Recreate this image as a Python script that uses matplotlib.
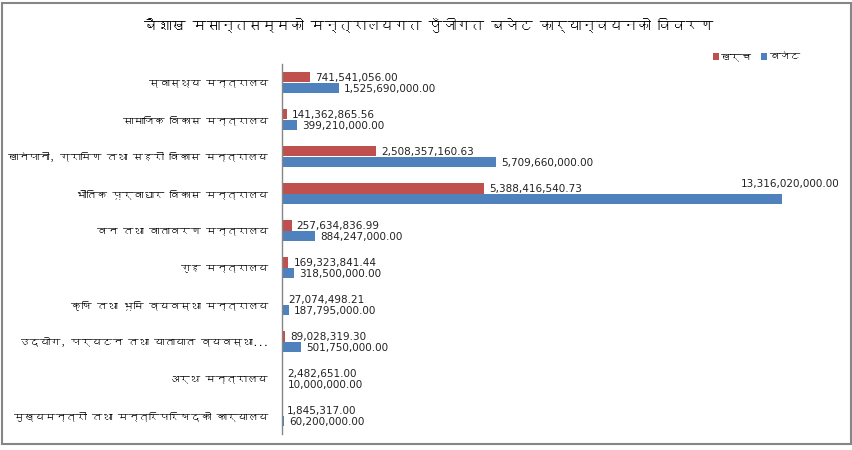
import numpy as np
import matplotlib
matplotlib.use("Agg")
import matplotlib.pyplot as plt
from matplotlib import font_manager
from matplotlib.ft2font import FT2Font
from matplotlib.patches import Rectangle

title = "बैशाख मसान्तसम्मको मन्त्रालयगत पुँजीगत बजेट कार्यान्वयनको विवरण"

ministries = [
    "स्वास्थ्य मन्त्रालय",
    "सामाजिक विकास मन्त्रालय",
    "खानेपानी, ग्रामिण तथा सहरी विकास मन्त्रालय",
    "भौतिक पूर्वाधार विकास मन्त्रालय",
    "वन तथा वातावरण मन्त्रालय",
    "गृह मन्त्रालय",
    "कृषि तथा भूमि व्यवस्था मन्त्रालय",
    "उद्योग, पर्यटन तथा यातायात व्यवस्था...",
    "अर्थ मन्त्रालय",
    "मुख्यमन्त्री तथा मन्त्रिपरिषद्को कार्यालय",
]

# खर्च (expenditure)
kharcha = [741541056.00, 141362865.56, 2508357160.63, 5388416540.73,
           257634836.99, 169323841.44, 27074498.21, 89028319.30,
           2482651.00, 1845317.00]
# बजेट (budget)
budget = [1525690000.00, 399210000.00, 5709660000.00, 13316020000.00,
          884247000.00, 318500000.00, 187795000.00, 501750000.00,
          10000000.00, 60200000.00]

series_names = ["खर्च", "बजेट"]


def find_devanagari_font():
    # look for any installed font that actually has Devanagari glyphs
    for f in font_manager.fontManager.ttflist:
        try:
            cmap = FT2Font(f.fname).get_charmap()
        except Exception:
            continue
        if 0x0915 in cmap:
            return f.name
    return None


def main():
    deva = find_devanagari_font()
    fams = [deva, "DejaVu Sans"] if deva else ["DejaVu Sans"]
    plt.rcParams["font.family"] = fams

    fig = plt.figure(figsize=(8.53, 4.5), dpi=100)
    ax = fig.add_axes([282 / 853, 1 - 434 / 450, 563 / 853, 370 / 450])

    red = "#C0504D"
    blue = "#4F81BD"
    y = np.arange(len(ministries))
    h = 0.285
    xmax = 15e9

    b1 = ax.barh(y - h / 2, kharcha, h, color=red, label=series_names[0])
    b2 = ax.barh(y + h / 2, budget, h, color=blue, label=series_names[1])

    for bars, vals in [(b1, kharcha), (b2, budget)]:
        for bar, v in zip(bars, vals):
            cy = bar.get_y() + bar.get_height() / 2
            txt = f"{v:,.2f}"
            if v > 0.8 * xmax:
                ax.annotate(txt, (v, cy), xytext=(8, 15), textcoords="offset pixels",
                            ha="center", va="center", fontsize=7.5,
                            family="DejaVu Sans", color="#222222", annotation_clip=False)
            else:
                ax.annotate(txt, (v, cy), xytext=(5, -1), textcoords="offset pixels",
                            ha="left", va="center", fontsize=7.5,
                            family="DejaVu Sans", color="#222222")

    ax.set_xlim(0, xmax)
    ax.set_ylim(len(ministries) - 0.5, -0.5)
    ax.set_yticks(y, ministries, fontsize=7.5)
    ax.tick_params(axis="y", length=0, pad=10)
    ax.set_xticks([])
    for s in ["top", "right", "bottom"]:
        ax.spines[s].set_visible(False)
    ax.spines["left"].set_color("#868686")
    ax.spines["left"].set_linewidth(1)

    fig.text(0.503, 1 - 25 / 450, title, ha="center", va="center",
             fontsize=10, weight="bold")

    fig.legend(loc="center right", bbox_to_anchor=(800 / 853, 1 - 57 / 450),
               ncol=2, frameon=False, fontsize=7.5, handlelength=0.6,
               handleheight=0.6, handletextpad=0.2, columnspacing=0.8,
               borderpad=0, borderaxespad=0)

    fig.patches.append(Rectangle((2 / 853, 6 / 450), 849 / 853, 441 / 450,
                                 transform=fig.transFigure, fill=False,
                                 edgecolor="#868686", linewidth=1.5))

    fig.savefig("out.png", dpi=100)


if __name__ == "__main__":
    main()
